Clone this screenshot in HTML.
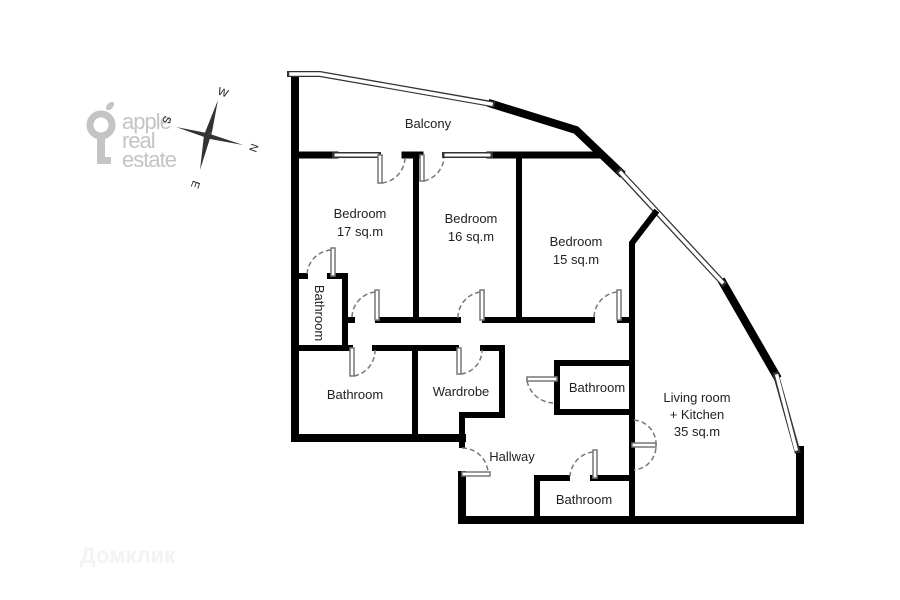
<!DOCTYPE html>
<html><head><style>body{margin:0;background:#fff}svg{display:block}text{font-family:"Liberation Sans",sans-serif;font-size:13px;fill:#222}</style></head><body>
<svg width="900" height="600" viewBox="0 0 900 600">
<!-- logo -->
<g fill="#c4c4c4">
<circle cx="101" cy="125" r="11" fill="none" stroke="#c4c4c4" stroke-width="7"/>
<rect x="97" y="134" width="8" height="30"/><rect x="97" y="157" width="14" height="7"/>
<ellipse cx="110" cy="106" rx="5" ry="3" transform="rotate(-45 110 106)"/>
</g>
<text x="122" y="129" style="font-size:22px;fill:#c4c4c4;letter-spacing:-1px">apple</text>
<text x="122" y="148" style="font-size:22px;fill:#c4c4c4;letter-spacing:-1px">real</text>
<text x="122" y="167" style="font-size:22px;fill:#c4c4c4;letter-spacing:-1px">estate</text>
<g fill="#333">
<polygon points="218,100 212,132 204,135"/><polygon points="204,135 212,132 200,170"/>
<polygon points="176,127 207,133 210,139"/><polygon points="210,139 207,133 243,145"/>
</g>
<text x="218" y="96" style="font-size:11px" transform="rotate(20 223 92)">W</text>
<text x="250" y="152" style="font-size:11px" transform="rotate(110 254 148)">N</text>
<text x="163" y="124" style="font-size:11px" transform="rotate(110 167 120)">S</text>
<text x="193" y="188" style="font-size:11px" transform="rotate(110 196 184)">E</text>
<text x="80" y="563" style="font-size:22px;fill:#f3f3f3;font-weight:bold">Домклик</text>
<g fill="none" stroke="#000" stroke-linecap="square">
<path d="M295 76 V438 H462 M462 475 V520 H800 V450" stroke-width="8"/>
<path d="M492 104 L576 130 L620 172 M723 283 L776 375" stroke-width="8"/>
<g stroke="#333" stroke-width="6"><path d="M290 74 H320 L492 104 M620 172 L723 283 M776 375 L797 450"/></g>
<g stroke="#fff" stroke-width="3.5"><path d="M291 74 H320 L491 104 M621 173 L722 282 M777 376 L796 449"/></g>
<path d="M295 155 H335 M405 155 H420 M490 155 H600" stroke-width="7"/>
<path d="M335 155 H378 M445 155 H490" stroke="#333" stroke-width="6"/>
<path d="M336 155 H377 M446 155 H489" stroke="#fff" stroke-width="3"/>
<path d="M416 155 V320 M519 155 V320" stroke-width="6"/>
<path d="M632 520 V243 L655 213" stroke-width="6"/>
<path d="M345 320 H352 M378 320 H458 M485 320 H592 M620 320 H632" stroke-width="6"/>
<path d="M295 276 H305 M330 276 H345 V345" stroke-width="6"/>
<path d="M295 348 H350 M375 348 H456 M483 348 H502 V415 H462 V445" stroke-width="6"/>
<path d="M415 348 V432" stroke-width="6"/>
<path d="M632 363 H557 V412 H632" stroke-width="6"/>
<path d="M537 520 V478 H567 M593 478 H632" stroke-width="6"/>
</g>
<g fill="none" stroke="#777" stroke-width="1.5">
<rect x="378" y="155" width="4" height="28" fill="#fff"/><path d="M382 183 A26 26 0 0 0 405 158" stroke-dasharray="5,3"/>
<rect x="420" y="155" width="4" height="26" fill="#fff"/><path d="M424 181 A26 26 0 0 0 444 158" stroke-dasharray="5,3"/>
<rect x="331" y="248" width="4" height="28" fill="#fff"/><path d="M331 250 A26 26 0 0 0 307 274" stroke-dasharray="5,3"/>
<rect x="375" y="290" width="4" height="30" fill="#fff"/><path d="M375 292 A26 26 0 0 0 352 318" stroke-dasharray="5,3"/>
<rect x="480" y="290" width="4" height="30" fill="#fff"/><path d="M480 292 A26 26 0 0 0 458 318" stroke-dasharray="5,3"/>
<rect x="617" y="290" width="4" height="30" fill="#fff"/><path d="M617 292 A26 26 0 0 0 594 318" stroke-dasharray="5,3"/>
<rect x="350" y="348" width="4" height="28" fill="#fff"/><path d="M354 376 A26 26 0 0 0 375 350" stroke-dasharray="5,3"/>
<rect x="457" y="348" width="4" height="26" fill="#fff"/><path d="M461 374 A24 24 0 0 0 482 350" stroke-dasharray="5,3"/>
<rect x="527" y="377" width="30" height="4" fill="#fff"/><path d="M527 381 A28 28 0 0 0 553 403" stroke-dasharray="5,3"/>
<rect x="462" y="472" width="28" height="4" fill="#fff"/><path d="M462 448 A26 26 0 0 1 488 472" stroke-dasharray="5,3"/>
<rect x="593" y="450" width="4" height="28" fill="#fff"/><path d="M593 452 A26 26 0 0 0 570 476" stroke-dasharray="5,3"/>
<rect x="632" y="443" width="24" height="4" fill="#fff"/><path d="M634 420 A24 24 0 0 1 656 445 A24 24 0 0 1 634 470" stroke-dasharray="5,3"/>
</g>
<g text-anchor="middle">
<text x="428" y="128">Balcony</text>
<text x="360" y="218">Bedroom</text><text x="360" y="236">17 sq.m</text>
<text x="471" y="223">Bedroom</text><text x="471" y="241">16 sq.m</text>
<text x="576" y="246">Bedroom</text><text x="576" y="264">15 sq.m</text>
<text x="0" y="0" transform="translate(315 313) rotate(90)">Bathroom</text>
<text x="355" y="399">Bathroom</text>
<text x="461" y="396">Wardrobe</text>
<text x="597" y="392">Bathroom</text>
<text x="697" y="402">Living room</text><text x="697" y="419">+ Kitchen</text><text x="697" y="436">35 sq.m</text>
<text x="512" y="461">Hallway</text>
<text x="584" y="504">Bathroom</text>
</g>
</svg>
</body></html>
